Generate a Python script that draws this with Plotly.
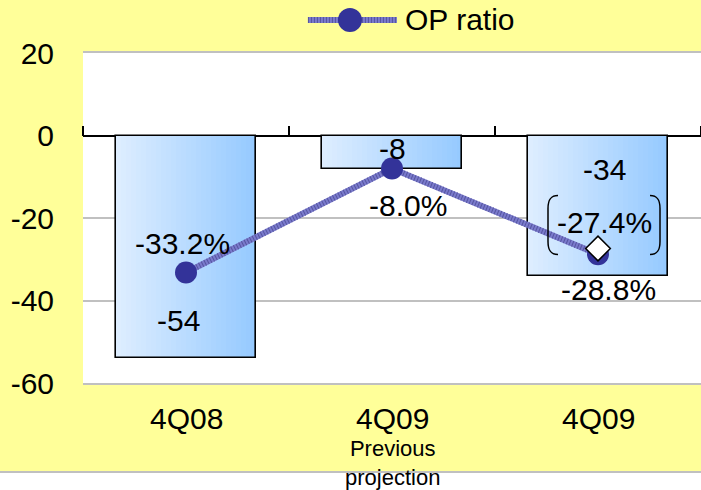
import plotly.graph_objects as go

# ---- data ----
categories = ["4Q08", "4Q09", "4Q09"]
category_notes = ["", "Previous<br>projection", ""]
op_income = [-54, -8, -34]
op_ratio = [-33.2, -8.0, -28.8]
revised_ratio = [None, None, -27.4]
y_ticks = [20, 0, -20, -40, -60]

# ---- styling ----
FONT = "Arial, 'Liberation Sans', sans-serif"
YELLOW = "#ffff99"
GRID = "#c0c0c0"
LINE_LIGHT = "#7a7acc"
LINE_DARK = "#55559f"
MARKER_COLOR = "#333399"
BAR_WIDTH = 0.68
N_STRIPS = 28
LEFT_RGB = (221, 237, 255)
RIGHT_RGB = (150, 202, 255)

# pixel offsets for value labels (dx, dy)
income_label_shift = [(-8, 38), (0, 20), (6, 106)]
ratio_label_shift = [(-4, 29), (16, -37), (10, -35)]
revised_label_shift = (6, 26)

x_pos = list(range(len(categories)))

fig = go.Figure()

# gradient bars built from narrow vertical strips
strip_w = BAR_WIDTH / N_STRIPS
for k in range(N_STRIPS):
    t = k / (N_STRIPS - 1)
    rgb = tuple(round(a + (b - a) * t) for a, b in zip(LEFT_RGB, RIGHT_RGB))
    fig.add_trace(go.Bar(
        x=x_pos, y=op_income,
        width=strip_w * 1.08,
        offset=-BAR_WIDTH / 2 + k * strip_w,
        marker=dict(color="rgb(%d,%d,%d)" % rgb, line=dict(width=0)),
        showlegend=False, hoverinfo="skip",
    ))

# bar outlines
fig.add_trace(go.Bar(
    x=x_pos, y=op_income, width=BAR_WIDTH,
    marker=dict(color="rgba(0,0,0,0)", line=dict(color="black", width=1.6)),
    showlegend=False, name="OP income",
))

# OP ratio line: light base with fine dark hatching, then markers
fig.add_trace(go.Scatter(
    x=x_pos, y=op_ratio, mode="lines", name="OP ratio",
    line=dict(color=LINE_LIGHT, width=6), showlegend=False, hoverinfo="skip",
))
fig.add_trace(go.Scatter(
    x=x_pos, y=op_ratio, mode="lines",
    line=dict(color=LINE_DARK, width=6, dash="1px,2px"),
    showlegend=False, hoverinfo="skip",
))
fig.add_trace(go.Scatter(
    x=x_pos, y=op_ratio, mode="markers", name="OP ratio",
    marker=dict(color=MARKER_COLOR, size=22),
    showlegend=False,
))

# revised projection marker
fig.add_trace(go.Scatter(
    x=x_pos, y=revised_ratio, mode="markers",
    marker=dict(symbol="diamond", size=19, color="white",
                line=dict(color="black", width=1.5)),
    showlegend=False,
))

# carrier for the tick axis drawn along the zero line
fig.add_trace(go.Scatter(
    x=x_pos, y=op_ratio, xaxis="x2", mode="markers",
    marker=dict(opacity=0), showlegend=False, hoverinfo="skip",
))

annotations = [
    # white strip with a grey rule below the yellow panel
    dict(x=(350.5 - 83) / 618, y=-0.2667, xref="paper", yref="paper",
         xanchor="center", yanchor="top", text=" ", showarrow=False,
         width=760, height=60, bgcolor="white",
         bordercolor=GRID, borderwidth=2, borderpad=0),
]

# category labels under the plot
for i, cat in enumerate(categories):
    annotations.append(dict(x=x_pos[i], y=-0.109, xref="x", yref="paper",
                            text=cat, showarrow=False, yanchor="middle",
                            font=dict(size=30, color="black", family=FONT)))
for i, note in enumerate(category_notes):
    if note:
        annotations.append(dict(x=x_pos[i], y=-0.2424, xref="x", yref="paper",
                                text=note, showarrow=False, yanchor="middle",
                                font=dict(size=22, color="black", family=FONT)))

for i, v in enumerate(op_income):
    dx, dy = income_label_shift[i]
    annotations.append(dict(x=x_pos[i], y=v, xref="x", yref="y",
                            text="%d" % v, showarrow=False,
                            xshift=dx, yshift=dy,
                            font=dict(size=30, color="black", family=FONT)))
for i, v in enumerate(op_ratio):
    dx, dy = ratio_label_shift[i]
    annotations.append(dict(x=x_pos[i], y=v, xref="x", yref="y",
                            text="%.1f%%" % v, showarrow=False,
                            xshift=dx, yshift=dy,
                            font=dict(size=30, color="black", family=FONT)))
for i, v in enumerate(revised_ratio):
    if v is None:
        continue
    dx, dy = revised_label_shift
    annotations.append(dict(x=x_pos[i], y=v, xref="x", yref="y",
                            text="%.1f%%" % v, showarrow=False,
                            xshift=dx, yshift=dy,
                            font=dict(size=30, color="black", family=FONT)))

# legend text
annotations.append(dict(x=0.518, y=1.10, xref="paper", yref="paper",
                        text="OP ratio", showarrow=False,
                        xanchor="left", yanchor="middle",
                        font=dict(size=30, color="black", family=FONT)))

shapes = [
    # legend symbol
    dict(type="line", xref="paper", yref="paper", x0=0.364, x1=0.508,
         y0=1.10, y1=1.10, line=dict(color=LINE_LIGHT, width=6)),
    dict(type="line", xref="paper", yref="paper", x0=0.364, x1=0.508,
         y0=1.10, y1=1.10, line=dict(color=LINE_DARK, width=6, dash="1px,2px")),
    dict(type="circle", xref="paper", yref="paper",
         xsizemode="pixel", ysizemode="pixel", xanchor=0.432, yanchor=1.10,
         x0=-12, x1=12, y0=-12, y1=12,
         fillcolor=MARKER_COLOR, line=dict(width=0)),
]

# brackets around the revised projection label
for i, v in enumerate(revised_ratio):
    if v is None:
        continue
    for path in ("M -40,53 C -48,53 -50,48 -50,40 L -50,7 C -50,-1 -48,-6 -40,-6",
                 "M 52,53 C 60,53 62,48 62,40 L 62,7 C 62,-1 60,-6 52,-6"):
        shapes.append(dict(type="path", xref="x", yref="y",
                           xsizemode="pixel", ysizemode="pixel",
                           xanchor=x_pos[i], yanchor=v, path=path,
                           line=dict(color="black", width=1.5)))

fig.update_layout(
    width=701, height=490,
    margin=dict(l=83, r=0, t=53, b=107),
    paper_bgcolor=YELLOW, plot_bgcolor="white",
    barmode="overlay", bargap=0,
    font=dict(family=FONT, size=30, color="black"),
    xaxis=dict(range=[-0.5, 2.5], tickvals=x_pos, showticklabels=False,
               showgrid=False, zeroline=False, ticks="",
               showline=True, linecolor=GRID, linewidth=1.5, mirror=True),
    xaxis2=dict(overlaying="x", anchor="free", position=0.75, side="top",
                range=[-0.5, 2.5], tickvals=[-0.5, 0.5, 1.5, 2.5],
                ticks="outside", ticklen=10, tickwidth=1.5, tickcolor="black",
                showticklabels=False, showgrid=False, zeroline=False,
                showline=False),
    yaxis=dict(range=[-60, 20], tickvals=y_ticks,
               ticktext=[str(v) for v in y_ticks],
               showgrid=True, gridcolor=GRID, gridwidth=1.5,
               zeroline=True, zerolinecolor="black", zerolinewidth=2,
               ticks="", ticklabelstandoff=28,
               tickfont=dict(size=30, family=FONT, color="black")),
    annotations=annotations,
    shapes=shapes,
    showlegend=False,
)

fig.write_html("out.html")
